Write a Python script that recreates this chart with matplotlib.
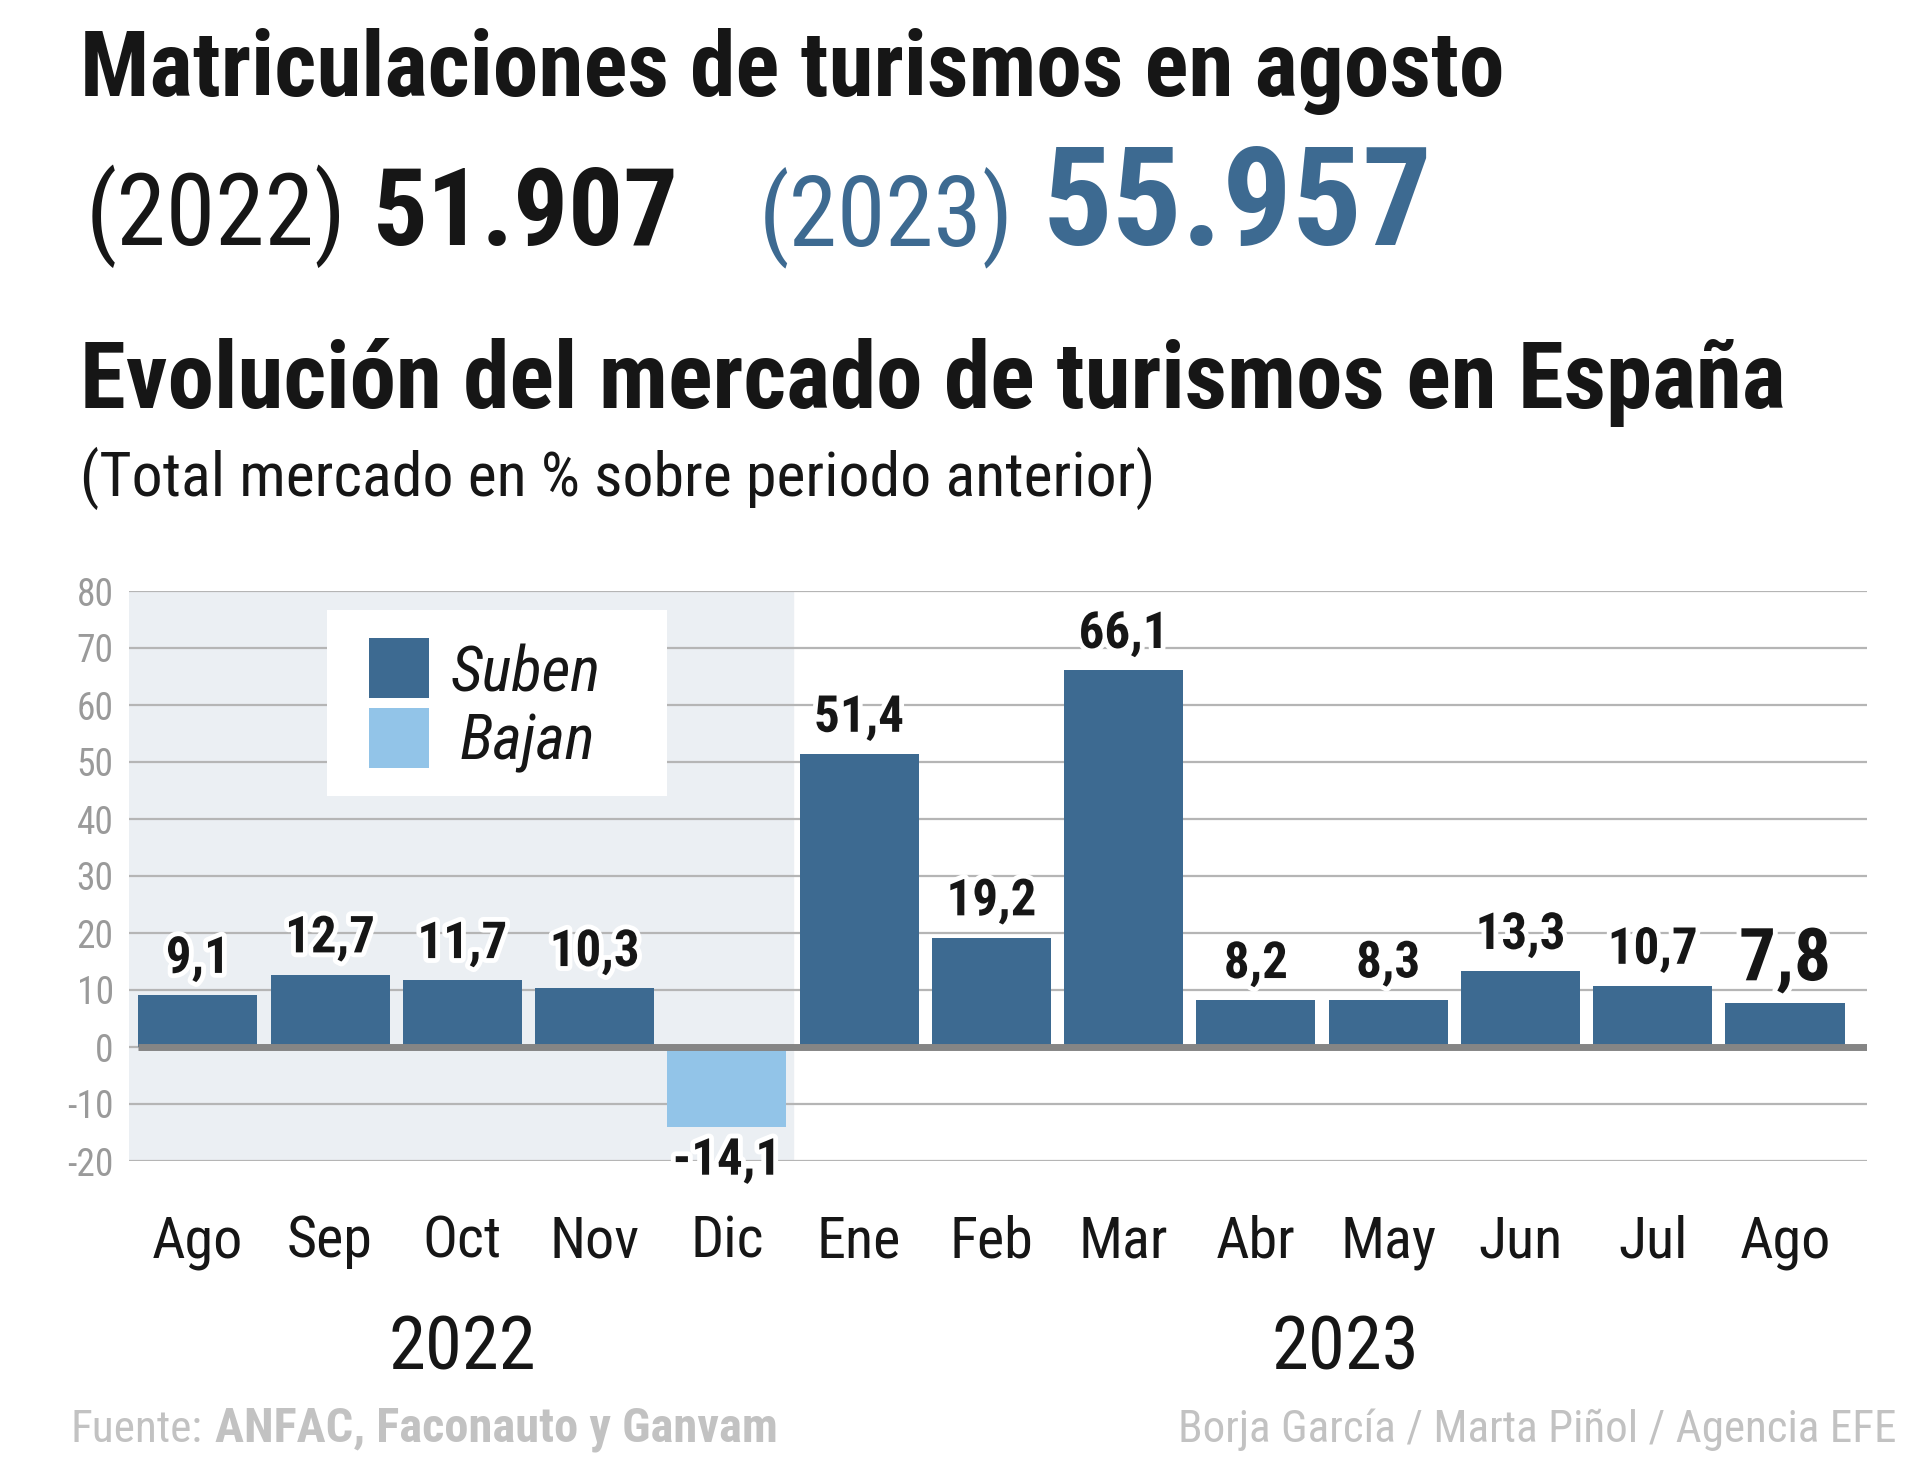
import numpy as np
import matplotlib.pyplot as plt
import matplotlib.patheffects as pe
from matplotlib.patches import Rectangle
from matplotlib.transforms import blended_transform_factory

months = ['Ago', 'Sep', 'Oct', 'Nov', 'Dic', 'Ene', 'Feb', 'Mar', 'Abr', 'May', 'Jun', 'Jul', 'Ago']
values = [9.1, 12.7, 11.7, 10.3, -14.1, 51.4, 19.2, 66.1, 8.2, 8.3, 13.3, 10.7, 7.8]
years = ['2022', '2023']
year_pos = [2.0, 8.68]
totals = ['51.907', '55.957']
yticks = list(range(-20, 90, 10))
legend_labels = ['Suben', 'Bajan']

plt.rcParams['font.family'] = ['Liberation Sans Narrow', 'Roboto Condensed', 'DejaVu Sans Condensed',
                               'Roboto', 'DejaVu Sans']

dark = '#3d6a91'
light = '#92c4e8'
ink = '#161616'
foot = '#c2c2c2'

W, H = 1920, 1466
fig = plt.figure(figsize=(W / 100, H / 100), dpi=100)
renderer = fig.canvas.get_renderer()


def fx(x):
    return x / W


def fy(y):
    return 1 - y / H


def size_for(s, width, **kw):
    # font size that makes text s about width pixels wide
    t = fig.text(0, 0, s, fontsize=100, **kw)
    w = t.get_window_extent(renderer).width
    t.remove()
    return 100 * width / w


def put(x, y, s, width, **kw):
    return fig.text(fx(x), fy(y), s, fontsize=size_for(s, width, **kw), va='baseline', **kw)


# header
put(80, 96, 'Matriculaciones de turismos en agosto', 1424, fontweight='bold', color=ink)
put(86, 245, '(2022)', 261, color=ink)
put(373, 245, totals[0], 306, fontweight='bold', color=ink)
put(759, 245, '(2023)', 255, color=dark)
put(1043, 245, totals[1], 390, fontweight='bold', color=dark)
put(80, 408, 'Evolución del mercado de turismos en España', 1708, fontweight='bold', color=ink)
put(80, 496, '(Total mercado en % sobre periodo anterior)', 1077, color=ink)

# chart
ax = fig.add_axes([fx(129), fy(1161), fx(1867 - 129), (1161 - 591) / H])
x = np.arange(len(values))
colors = [dark if v >= 0 else light for v in values]

ax.axvspan(-0.52, 4.5, color='#ebeff3', zorder=0)
ax.bar(x, values, width=0.9, color=colors, zorder=3)
ax.plot([-0.45, 12.62], [0, 0], color='#858585', lw=5, solid_capstyle='butt', zorder=4)

ax.set_xlim(-0.52, 12.62)
ax.set_ylim(-20, 80)
ax.set_yticks(yticks)
ax.set_yticklabels([str(t) for t in yticks], fontsize=size_for('80', 37), color='#9a9a9a')
ax.tick_params(axis='y', length=0, pad=11)
ax.set_xticks([])
ax.yaxis.grid(True, color='#b5b5b5', lw=1.6)
ax.set_axisbelow(True)
for s in ax.spines.values():
    s.set_visible(False)
ax.patch.set_alpha(0)

halo = [pe.withStroke(linewidth=7, foreground='white')]
small = size_for('12,7', 90, fontweight='bold')
big = size_for('7,8', 92, fontweight='bold')
for i, v in enumerate(values):
    label = f'{v:.1f}'.replace('.', ',')
    size = big if i == len(values) - 1 else small
    if v >= 0:
        ax.annotate(label, (i, v), xytext=(0, 16), textcoords='offset points', ha='center',
                    va='baseline', fontsize=size, fontweight='bold', color=ink,
                    path_effects=halo, zorder=5)
    else:
        ax.annotate(label, (i, v), xytext=(0, -6), textcoords='offset points', ha='center',
                    va='top', fontsize=size, fontweight='bold', color=ink,
                    path_effects=halo, zorder=5, annotation_clip=False)

trans = blended_transform_factory(ax.transData, fig.transFigure)
msize = size_for('May', 96)
for i, m in enumerate(months):
    ax.text(i, fy(1257), m, transform=trans, ha='center', va='baseline', fontsize=msize, color=ink)
ysize = size_for('2022', 148)
for p, yr in zip(year_pos, years):
    ax.text(p, fy(1369), yr, transform=trans, ha='center', va='baseline', fontsize=ysize, color=ink)

# legend box drawn by hand so it sits like the original
ax.add_patch(Rectangle((fx(327), fy(796)), fx(340), 186 / H, transform=fig.transFigure,
                       facecolor='white', edgecolor='none', zorder=6, clip_on=False))
lsize = size_for('Suben', 150, style='italic')
for k, (lab, col) in enumerate(zip(legend_labels, [dark, light])):
    top = 638 + 70 * k
    ax.add_patch(Rectangle((fx(369), fy(top + 60)), fx(60), 60 / H, transform=fig.transFigure,
                           facecolor=col, edgecolor='none', zorder=7, clip_on=False))
    fig.text(fx(451 + 9 * k), fy(692 + 67 * k), lab, fontsize=lsize, style='italic', color=ink,
             va='baseline', zorder=7)

# footer
put(70, 1442, 'Fuente:', 132, color=foot)
put(215, 1442, 'ANFAC, Faconauto y Ganvam', 563, fontweight='bold', color=foot)
t = put(1896, 1442, 'Borja García / Marta Piñol / Agencia EFE', 720, color=foot)
t.set_ha('right')

fig.savefig('out.png', dpi=100)
